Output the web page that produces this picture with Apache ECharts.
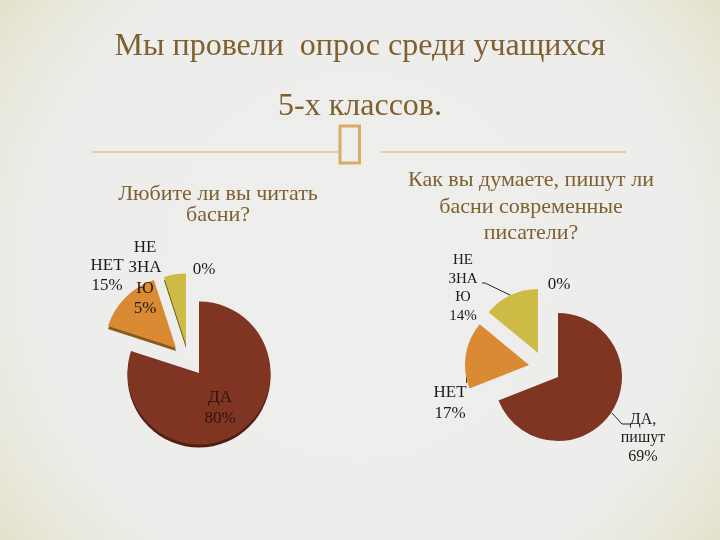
<!DOCTYPE html>
<html><head><meta charset="utf-8">
<style>html,body{margin:0;padding:0;background:#ececec}#c{width:720px;height:540px}</style>
<script src="https://cdn.jsdelivr.net/npm/echarts@6/dist/echarts.min.js"></script>
</head><body><div id="c"></div>
<script>
const leftCategories = ['ДА\n', 'НЕТ\n', 'НЕ\nЗНА\nЮ\n', ''];
const leftValues = [80, 15, 5, 0];
const rightCategories = ['ДА,\nпишут\n', 'НЕТ\n', 'НЕ\nЗНА\nЮ\n', ''];
const rightValues = [69, 17, 14, 0];
const sliceColors = ['#7f3522', '#d98a33', '#cdbb45', '#cdbb45'];
const rimColors = ['#4f1e12', '#8a5a1c', '#5e5a1e', '#5e5a1e'];
const titleLines = ['Мы провели  опрос среди учащихся', '5-х классов.'];
const leftQuestion = 'Любите ли вы читать\nбасни?';
const rightQuestion = 'Как вы думаете, пишут ли\nбасни современные\nписатели?';

const SERIF = '"Liberation Serif","Times New Roman",serif';
const BROWN = '#80602f';
const LINE = '#d9ab66';

function slices(names, values, cfg) {
  return names.map((_, i) => ({
    type: 'pie', silent: true, clockwise: true, startAngle: 90, animation: false,
    radius: [0, cfg.r], center: cfg.centers[i],
    labelLine: { show: false },
    data: names.map((nm, j) => ({
      name: nm, value: values[j],
      itemStyle: j === i
        ? { color: sliceColors[j], borderWidth: 0,
            shadowColor: cfg.rim ? rimColors[j] : 'transparent', shadowBlur: 0, shadowOffsetY: cfg.rim || 0 }
        : { opacity: 0, borderWidth: 0 },
      label: j === i
        ? { show: true, position: 'inside', formatter: '{b}{c}%', fontFamily: SERIF,
            fontSize: cfg.fonts[j], lineHeight: cfg.lhs[j], color: j === 0 && cfg.darkYes ? '#2c1510' : '#1c1c1c', align: 'center' }
        : { show: false }
    })),
    labelLayout: (p) => p.dataIndex === i
      ? { x: cfg.labels[i][0], y: cfg.labels[i][1], align: 'center', verticalAlign: 'middle', hideOverlap: false }
      : {}
  }));
}

const series = [
  ...slices(leftCategories, leftValues, {
    r: 71.5, rim: 3, darkYes: true,
    centers: [[199, 373], [176, 348], [186, 345], [186, 345]],
    fonts: [17, 17, 17, 17], lhs: [21, 20, 20.5, 20],
    labels: [[220, 408], [107, 276], [145, 278], [204, 270]]
  }),
  ...slices(rightCategories, rightValues, {
    r: 64, rim: 0,
    centers: [[558, 377], [529, 365], [538, 353], [538, 353]],
    fonts: [16, 17, 15, 17], lhs: [18.5, 20.5, 18.5, 20],
    labels: [[643, 438], [450, 403], [463, 288], [559, 285]]
  })
];

const txt = (x, y, s, size, lh) => ({ type: 'text', x, y, silent: true,
  style: { text: s, fill: BROWN, fontFamily: SERIF, fontSize: size, lineHeight: lh, align: 'center', verticalAlign: 'middle' } });
const seg = (x1, y1, x2, y2, stroke, w) => ({ type: 'line', silent: true,
  shape: { x1, y1, x2, y2 }, style: { stroke, lineWidth: w } });

const graphic = [
  txt(360, 47, titleLines[0], 32, 36),
  txt(360, 107, titleLines[1], 32, 36),
  seg(92, 152, 338, 152, LINE, 1),
  seg(381, 152, 626, 152, LINE, 1),
  { type: 'rect', silent: true, shape: { x: 340, y: 126, width: 19.5, height: 37 },
    style: { fill: 'none', stroke: LINE, lineWidth: 3 } },
  txt(218, 204.5, leftQuestion, 22, 21),
  txt(531, 207, rightQuestion, 22, 26.5),
  seg(482, 283, 485, 283, '#222', 1),
  seg(485, 283, 512, 296, '#222', 1),
  seg(612, 413, 622, 424, '#222', 1),
  seg(622, 424, 630, 424, '#222', 1),
  seg(466.5, 358, 466.5, 383, '#4a3010', 1)
];

const chart = echarts.init(document.getElementById('c'), null, { renderer: 'canvas' });
chart.setOption({
  animation: false,
  backgroundColor: {
    type: 'radial', x: 0.5, y: 0.5, r: 0.85,
    colorStops: [
      { offset: 0, color: '#eeeeee' },
      { offset: 0.72, color: '#ededeb' },
      { offset: 0.86, color: '#e9e8dc' },
      { offset: 1, color: '#e2e0c8' }
    ]
  },
  graphic: { elements: graphic },
  series
});
</script></body></html>
